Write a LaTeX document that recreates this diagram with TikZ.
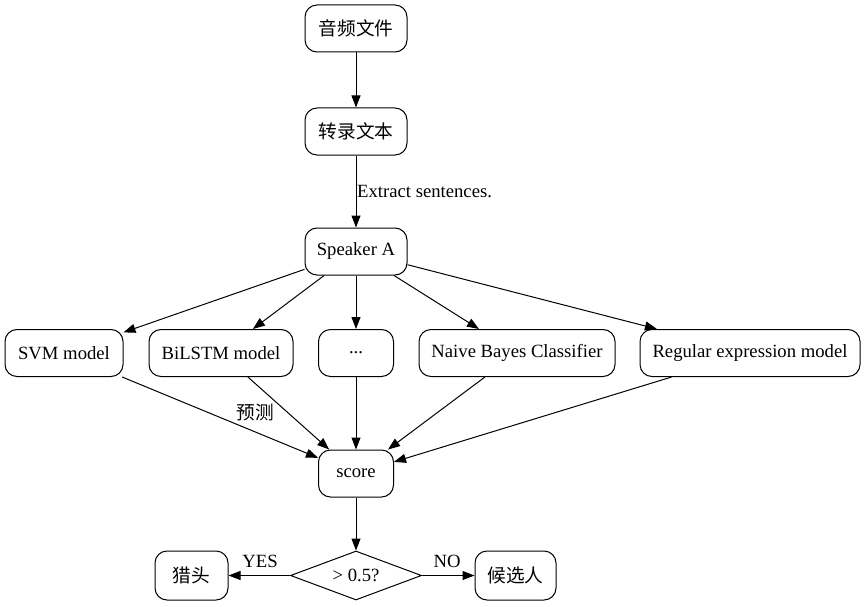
\documentclass[tikz,border=0pt]{standalone}
\usepackage{fontspec}
\setmainfont{Liberation Serif}
\newfontfamily\cjk{Noto Sans CJK SC}
\usetikzlibrary{arrows.meta,shapes.geometric}
\begin{document}
\begin{tikzpicture}[x=1pt,y=-1pt,
  every node/.style={font=\fontsize{18.67}{21}\selectfont},
  box/.style={draw,rounded corners=12pt,line width=1pt,minimum height=47pt,inner sep=0pt},
  dec/.style={draw,diamond,aspect=2.67,minimum width=131pt,minimum height=49pt,inner sep=0pt,line width=1pt},
  lbl/.style={inner sep=0pt},
  edge/.style={line width=1pt,-{Triangle[length=12pt,width=9pt]}}]
\useasboundingbox (0,0) rectangle (867,607);
\node[box,minimum width=102pt] (audio) at (356,28.5) {\cjk 音频文件};
\node[box,minimum width=102pt] (text) at (356,131.5) {\cjk 转录文本};
\node[box,minimum width=102pt] (spk) at (356,251.5) {Speaker A};
\node[box,minimum width=118pt] (svm) at (64,353) {SVM model};
\node[box,minimum width=144pt] (bilstm) at (221,353) {BiLSTM model};
\node[box,minimum width=75pt] (dots) at (356,353) {...};
\node[box,minimum width=196pt] (nb) at (517,353) {Naive Bayes Classifier};
\node[box,minimum width=220pt] (re) at (750,353) {Regular expression model};
\node[box,minimum width=75pt] (score) at (356,473.5) {score};
\node[dec] (thr) at (356,575.5) {\textgreater{} 0.5?};
\node[box,minimum width=73pt,minimum height=49pt] (hunter) at (191.5,575.5) {\cjk 猎头};
\node[box,minimum width=81pt,minimum height=49pt] (cand) at (515.5,575.5) {\cjk 候选人};

\draw[edge] (audio) -- (text);
\draw[edge] (text) -- (spk);
\node[lbl,anchor=west] (lx) at (357,192) {Extract sentences.};
\draw[edge] (spk) -- (svm);
\draw[edge] (spk) -- (bilstm);
\draw[edge] (spk) -- (dots);
\draw[edge] (spk) -- (nb);
\draw[edge] (spk) -- (re);
\draw[edge] (svm) -- (score);
\node[lbl] (lp) at (255,412) {\cjk 预测};
\draw[edge] (bilstm) -- (score);
\draw[edge] (dots) -- (score);
\draw[edge] (nb) -- (score);
\draw[edge] (re) -- (score);
\draw[edge] (score) -- (thr);
\draw[edge] (thr) -- (hunter);
\node[lbl] (ly) at (260,561) {YES};
\draw[edge] (thr) -- (cand);
\node[lbl] (ln) at (447,561) {NO};
\end{tikzpicture}
\end{document}
